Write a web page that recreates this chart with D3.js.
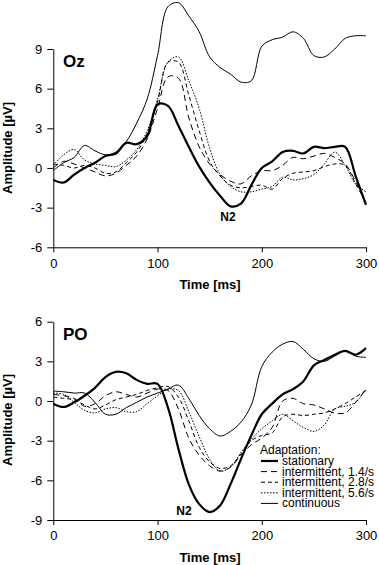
<!DOCTYPE html>
<html>
<head>
<meta charset="utf-8">
<script src="https://cdn.jsdelivr.net/npm/d3@7/dist/d3.min.js"></script>
<style>
  body { margin: 0; background: #fff; }
  svg text { font-family: "Liberation Sans", Arial, Helvetica, sans-serif; fill: #000; }
  .axis path, .axis line { stroke: #000; stroke-width: 1; }
  .axis text { font-size: 13px; }
</style>
</head>
<body>
<svg id="chart" width="379" height="565"></svg>
<script>
// time grid (ms), shared by both panels
const timesMs = [0, 10, 20, 30, 40, 50, 60, 70, 80, 90, 100, 110, 120, 130, 140, 150,
  160, 170, 180, 190, 200, 210, 220, 230, 240, 250, 260, 270, 280, 290, 300];

const xTicks = [0, 100, 200, 300];
const ozTicks = [-6, -3, 0, 3, 6, 9];
const poTicks = [-9, -6, -3, 0, 3, 6];

const seriesNames = ['stationary', 'intermittent, 1.4/s', 'intermittent, 2.8/s',
  'intermittent, 5.6/s', 'continuous'];

// Oz amplitudes (µV)
const ozStationary = [-0.9, -1.1, -0.5, 0.0, 0.4, 0.9, 1.1, 1.9, 1.8, 2.4, 4.8, 4.7, 3.2, 1.6,
  0.1, -1.1, -2.1, -2.9, -2.7, -1.3, 0.0, 0.5, 1.2, 1.3, 1.1, 1.6, 1.5, 1.6, 1.6, -0.6, -2.8];
const ozInt14 = [0.0, 0.5, 0.3, 0.0, -0.3, -0.6, -0.4, 0.2, 0.9, 2.2, 4.5, 6.9, 6.8, 3.8, 1.6,
  0.3, -0.5, -1.0, -1.2, -0.6, -0.2, -0.2, 0.2, 0.8, 0.7, 0.9, 1.1, 0.8, 0.3, -1.0, -2.6];
const ozInt28 = [0.3, 0.2, 0.0, 0.2, 0.0, -0.4, -0.3, 0.4, 1.2, 2.6, 5.0, 8.0, 8.0, 5.5, 2.8,
  0.5, -0.6, -1.3, -1.5, -1.4, -1.3, -1.6, -0.8, -0.4, -0.3, -0.2, 0.1, 0.3, 0.2, -1.2, -2.6];
const ozInt56 = [0.2, 1.0, 1.4, 0.6, 0.3, 0.2, 0.1, 0.6, 1.4, 2.8, 5.2, 8.0, 8.4, 6.6, 4.5,
  1.5, -0.5, -1.4, -1.8, -1.8, -1.6, -1.4, -0.7, -0.9, -0.8, -0.5, 0.3, 1.2, 0.2, -1.2, -1.8];
const ozContinuous = [-0.2, 0.4, 0.8, 1.7, 1.3, 1.0, 1.2, 2.0, 3.4, 5.2, 8.5, 12.2, 12.5, 11.5,
  10.3, 8.4, 7.6, 7.1, 6.5, 6.6, 9.2, 9.7, 9.9, 10.3, 9.8, 8.5, 8.4, 9.0, 9.8, 10.0, 10.0];

// PO amplitudes (µV)
const poStationary = [-0.2, -0.45, -0.1, 0.4, 1.0, 1.8, 2.2, 2.1, 1.6, 1.3, 1.3, -0.5, -3.6,
  -6.3, -7.8, -8.4, -7.9, -6.3, -4.4, -2.6, -1.0, -0.2, 0.5, 0.9, 1.5, 2.7, 3.1, 3.5, 3.8, 3.5, 4.0];
const poInt14 = [0.5, 0.4, 0.2, -0.4, -0.2, 0.4, 0.7, 0.5, 0.3, 0.6, 0.9, 0.8, -0.6, -2.8, -4.1,
  -4.9, -5.3, -5.0, -4.1, -3.3, -2.8, -2.0, 0.0, 0.2, -0.2, -0.3, -0.6, -0.9, -0.9, -0.1, 0.9];
const poInt28 = [0.3, 0.2, 0.1, -0.3, -0.6, -0.3, 0.1, 0.3, 0.5, 0.8, 1.0, 1.1, 0.3, -1.5, -3.5,
  -4.6, -5.1, -4.9, -4.0, -3.0, -2.6, -2.4, -1.2, -1.0, -1.1, -1.0, -0.9, -0.6, -0.2, 0.3, 0.8];
const poInt56 = [0.6, 0.5, -0.1, -0.7, -0.9, -0.6, -0.5, -0.8, -0.8, -0.2, 0.4, 0.9, 0.8, -0.8,
  -2.7, -4.4, -5.3, -5.0, -3.9, -2.9, -2.1, -1.5, -1.0, -1.5, -2.0, -2.3, -1.8, -0.6, -0.4, -0.1, 0.9];
const poContinuous = [0.75, 0.7, 0.6, 0.6, -0.1, -1.0, -1.0, -0.5, -0.1, 0.3, 0.6, 0.9, 1.2, 0.2,
  -1.1, -2.1, -2.65, -2.3, -1.6, -0.3, 2.6, 3.7, 4.3, 4.5, 3.9, 3.2, 3.0, 3.4, 3.8, 3.4, 3.3];

// line styles per series (same order as seriesNames)
const styles = [
  { width: 2.2, dash: null },
  { width: 1, dash: '6,4' },
  { width: 1, dash: '4,3' },
  { width: 1, dash: '1.5,1.5' },
  { width: 1, dash: null },
];

const svg = d3.select('#chart');
svg.append('rect').attr('width', 379).attr('height', 565).attr('fill', '#fff');

const x = d3.scaleLinear().domain([0, 300]).range([53.3, 366]);

const drawPanel = (cfg) => {
  const y = d3.scaleLinear().domain(cfg.domain).range(cfg.range);
  const g = svg.append('g');

  g.append('g').attr('class', 'axis')
    .attr('transform', `translate(0,${cfg.range[0]})`)
    .call(d3.axisBottom(x).tickValues(xTicks).tickSize(5).tickSizeOuter(0).tickPadding(6))
    .selectAll('text').style('font-size', '13px');

  g.append('g').attr('class', 'axis')
    .attr('transform', `translate(${x.range()[0]},0)`)
    .call(d3.axisLeft(y).tickValues(cfg.ticks).tickSize(6).tickSizeOuter(0).tickPadding(5)
      .tickFormat(d => String(d)));

  g.selectAll('.axis .domain').attr('stroke', '#000');

  const line = d3.line()
    .x((d, i) => x(timesMs[i]))
    .y(d => y(d))
    .curve(d3.curveCatmullRom.alpha(0.5));

  // thin ones first, thick stationary on top
  [4, 3, 2, 1, 0].forEach(k => {
    g.append('path')
      .datum(cfg.series[k])
      .attr('d', line)
      .attr('fill', 'none')
      .attr('stroke', '#000')
      .attr('stroke-width', styles[k].width)
      .attr('stroke-dasharray', styles[k].dash)
      .attr('stroke-linejoin', 'round');
  });

  g.append('text').attr('x', 63).attr('y', cfg.labelY)
    .style('font-size', '17px').style('font-weight', 'bold').text(cfg.label);

  g.append('text').attr('x', cfg.n2[0]).attr('y', cfg.n2[1]).attr('text-anchor', 'middle')
    .style('font-size', '12px').style('font-weight', 'bold').text('N2');

  g.append('text').attr('x', 210).attr('y', cfg.range[0] + 42).attr('text-anchor', 'middle')
    .style('font-size', '13px').style('font-weight', 'bold').text('Time [ms]');

  g.append('text')
    .attr('transform', `translate(12,${cfg.ampY}) rotate(-90)`)
    .attr('text-anchor', 'middle')
    .style('font-size', '13px').style('font-weight', 'bold').text('Amplitude [µV]');

  return y;
};

drawPanel({
  domain: [-6, 9], range: [247.3, 49], ticks: ozTicks, label: 'Oz', labelY: 67,
  n2: [228, 221], ampY: 148,
  series: [ozStationary, ozInt14, ozInt28, ozInt56, ozContinuous],
});

drawPanel({
  domain: [-9, 6], range: [520, 321.7], ticks: poTicks, label: 'PO', labelY: 340,
  n2: [184, 515], ampY: 420,
  series: [poStationary, poInt14, poInt28, poInt56, poContinuous],
});

// legend
const legend = svg.append('g').attr('transform', 'translate(260,454)');
legend.append('text').attr('x', 0).attr('y', 0).style('font-size', '12px').text('Adaptation:');
seriesNames.forEach((name, i) => {
  const yy = 11 + i * 10.6;
  legend.append('line')
    .attr('x1', 1).attr('x2', 18).attr('y1', yy - 4).attr('y2', yy - 4)
    .attr('stroke', '#000')
    .attr('stroke-width', styles[i].width)
    .attr('stroke-dasharray', styles[i].dash);
  legend.append('text').attr('x', 22).attr('y', yy).style('font-size', '12px').text(name);
});
</script>
</body>
</html>
